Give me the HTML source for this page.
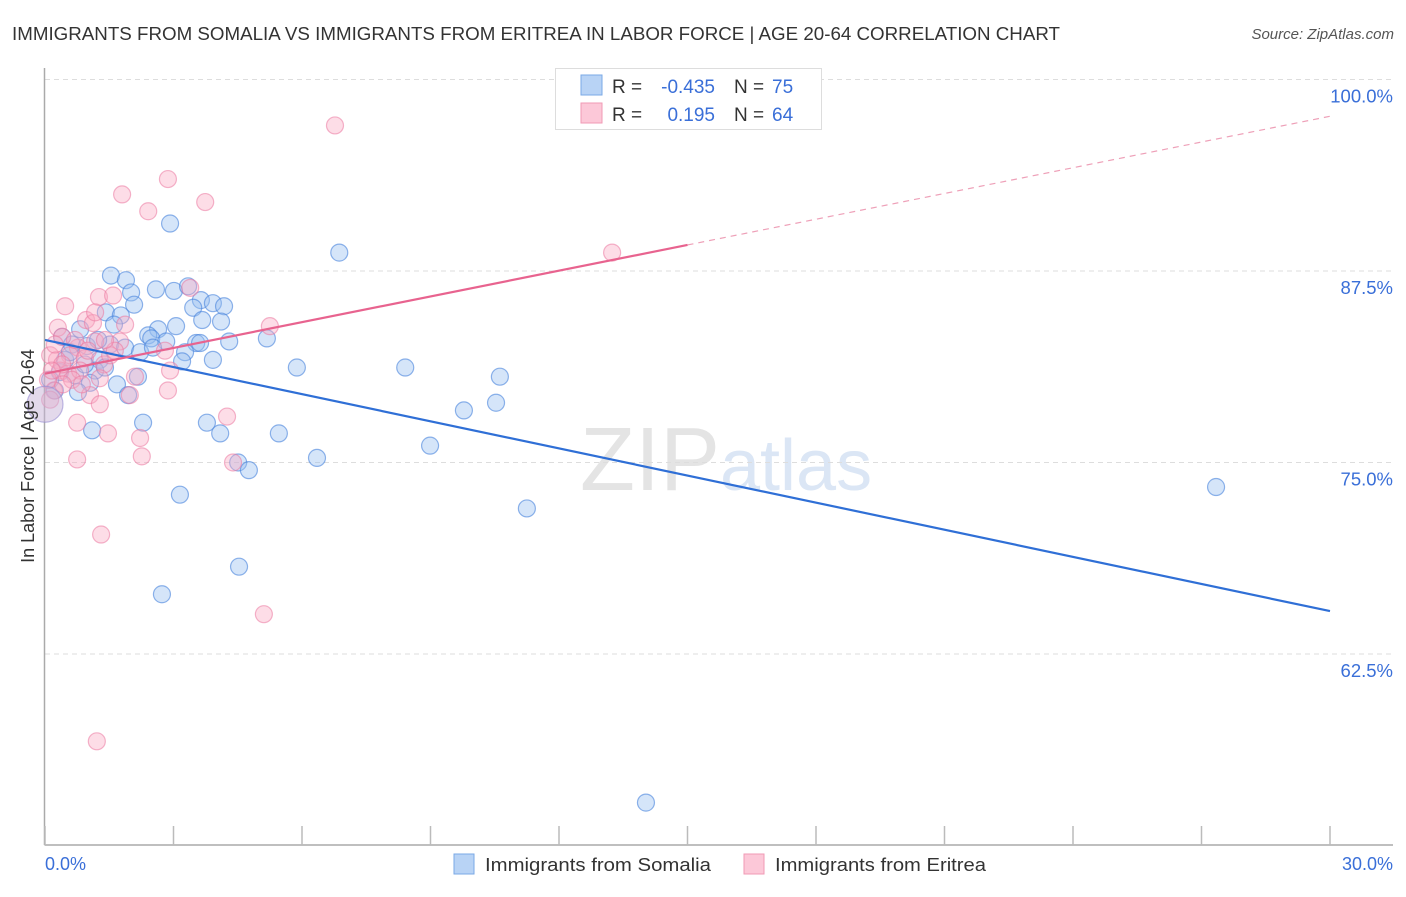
<!DOCTYPE html>
<html><head><meta charset="utf-8"><style>
body{margin:0;background:#fff;font-family:"Liberation Sans",sans-serif;}
svg text{font-family:"Liberation Sans",sans-serif;}
</style></head><body>
<svg id="chart" width="1406" height="892" viewBox="0 0 1406 892">
<text x="12" y="40" font-size="18" fill="#333" textLength="1048" lengthAdjust="spacingAndGlyphs">IMMIGRANTS FROM SOMALIA VS IMMIGRANTS FROM ERITREA IN LABOR FORCE | AGE 20-64 CORRELATION CHART</text>
<text x="1394" y="39" font-size="15" fill="#555" font-style="italic" text-anchor="end">Source: ZipAtlas.com</text>
<text x="720" y="490" font-size="90" fill="#e4e4e4" text-anchor="end" font-family="Liberation Serif">ZIP</text>
<text x="720" y="490" font-size="72" fill="#dbe6f5">atlas</text>
<g id="grid"></g>
<g id="axes"></g>
<g id="points"></g>
<g id="trends"></g>
<text transform="translate(34,456) rotate(-90)" font-size="18" fill="#333" text-anchor="middle">In Labor Force | Age 20-64</text>
<g>
<rect x="555.5" y="68.5" width="266" height="61" fill="#fff" stroke="#ddd"/>
<rect x="581" y="75" width="21" height="20" fill="#b8d3f5" stroke="#7aa8e6"/>
<rect x="581" y="103" width="21" height="20" fill="#fcc8d8" stroke="#f09ab5"/>
<text x="612" y="93" font-size="19" fill="#333">R =</text>
<text x="715" y="93" font-size="19" fill="#3a6fd8" text-anchor="end">-0.435</text>
<text x="734" y="93" font-size="19" fill="#333">N =</text>
<text x="772" y="93" font-size="19" fill="#3a6fd8">75</text>
<text x="612" y="121" font-size="19" fill="#333">R =</text>
<text x="715" y="121" font-size="19" fill="#3a6fd8" text-anchor="end">0.195</text>
<text x="734" y="121" font-size="19" fill="#333">N =</text>
<text x="772" y="121" font-size="19" fill="#3a6fd8">64</text>
</g>
<g>
<rect x="454" y="854" width="20" height="20" fill="#b8d3f5" stroke="#7aa8e6"/>
<text x="485" y="871" font-size="18" fill="#333" textLength="226" lengthAdjust="spacingAndGlyphs">Immigrants from Somalia</text>
<rect x="744" y="854" width="20" height="20" fill="#fcc8d8" stroke="#f09ab5"/>
<text x="775" y="871" font-size="18" fill="#333" textLength="211" lengthAdjust="spacingAndGlyphs">Immigrants from Eritrea</text>
</g>
</svg>
<script>
const yTicks=[100,87.5,75,62.5];
const yTickLabels=["100.0%","87.5%","75.0%","62.5%"];
const xTickVals=[0,3,6,9,12,15,18,21,24,27,30];
const xEndLabels=["0.0%","30.0%"];
const somaliaX=[2.92,6.87,1.54,1.89,2.01,2.59,3.01,3.34,3.64,3.92,4.18,3.46,2.08,1.42,1.77,1.61,3.67,4.11,3.06,2.64,2.41,2.48,2.83,3.53,3.62,4.30,5.18,0.82,0.40,0.63,0.98,1.52,1.87,2.22,2.52,3.27,3.20,3.92,5.88,8.41,10.62,1.28,1.17,1.40,0.35,0.70,2.17,1.68,1.05,0.77,1.94,9.78,10.53,2.29,3.78,4.09,5.46,1.10,8.99,6.35,4.51,4.76,3.15,11.25,27.34,4.53,2.73,14.03,0.12,0.23,0.47,0.58,0.93,1.24];
const somaliaY=[90.6,88.7,87.2,86.9,86.1,86.3,86.2,86.5,85.6,85.4,85.2,85.1,85.3,84.8,84.6,84.0,84.3,84.2,83.9,83.7,83.3,83.1,82.9,82.8,82.8,82.9,83.1,83.7,83.2,82.7,82.6,82.7,82.5,82.2,82.5,82.2,81.6,81.7,81.2,81.2,80.6,81.7,81.0,81.2,80.9,80.7,80.6,80.1,80.2,79.6,79.4,78.4,78.9,77.6,77.6,76.9,76.9,77.1,76.1,75.3,75.0,74.5,72.9,72.0,73.4,68.2,66.4,52.8,80.4,79.7,81.7,82.2,81.4,83.0];
const eritreaX=[6.77,2.87,1.80,2.41,3.74,13.24,3.39,1.26,1.59,0.47,0.96,1.12,1.87,5.25,0.30,0.40,1.75,1.17,0.77,0.58,0.93,1.38,0.28,0.35,0.54,0.82,0.63,1.28,2.10,2.92,2.80,2.87,0.21,1.05,1.28,1.98,4.25,0.75,1.47,2.22,2.26,0.75,4.39,1.31,5.11,1.21,0.12,0.12,0.23,0.42,0.70,1.00,1.52,0.40,0.86,1.17,0.07,0.16,1.63,1.40];
const eritreaY=[97.0,93.5,92.5,91.4,92.0,88.7,86.4,85.8,85.9,85.2,84.3,84.1,84.0,83.9,83.8,83.2,82.9,82.9,82.5,82.0,81.8,81.4,81.7,81.0,80.8,81.0,80.4,80.5,80.6,81.0,82.3,79.7,79.7,79.4,78.8,79.4,78.0,77.6,76.9,76.6,75.4,75.2,75.0,70.3,65.1,56.8,79.1,82.0,82.7,80.1,83.0,82.3,82.0,81.4,80.1,84.8,80.4,81.0,82.3,83.0];
const bigPoint=[0,78.8];
const somaliaTrend=[[0,83.0],[30,65.3]];
const eritreaTrend=[[0,80.8],[15,89.2],[30,97.6]];

const X0=45,X1=1330,YTOP=79.5,YSTEP=191.5;
function sx(v){return X0+(v/30)*(X1-X0);}
function sy(v){return YTOP+(100-v)/12.5*YSTEP;}
const NS="http://www.w3.org/2000/svg";
function mk(tag,attrs,parent){const e=document.createElementNS(NS,tag);for(const k in attrs)e.setAttribute(k,attrs[k]);parent.appendChild(e);return e;}
const grid=document.getElementById('grid'),axes=document.getElementById('axes'),pts=document.getElementById('points'),tr=document.getElementById('trends');
yTicks.forEach((t,i)=>{
  const l=mk('line',{x1:X0,x2:1393,y1:sy(t),y2:sy(t),stroke:'#ddd','stroke-dasharray':'5,4'},grid);
  
  
  const tx=mk('text',{x:1393,y:sy(t)+23,'font-size':18.5,fill:'#3a6fd8','text-anchor':'end'},grid);
  tx.textContent=yTickLabels[i];
  
  
});
const ya=mk('line',{x1:44.5,x2:44.5,y1:68,y2:845,stroke:'#aaa','stroke-width':1.5},axes);


const xa=mk('line',{x1:44.5,x2:1393,y1:845,y2:845,stroke:'#aaa','stroke-width':1.5},axes);


xTickVals.forEach(v=>{
  const t=mk('line',{x1:sx(v),x2:sx(v),y1:826,y2:845,stroke:'#bbb','stroke-width':1.5},axes);
  
  
});
const xl0=mk('text',{x:45,y:870,'font-size':18,fill:'#3a6fd8'},axes);xl0.textContent=xEndLabels[0];


const xl1=mk('text',{x:1393,y:870,'font-size':18,fill:'#3a6fd8','text-anchor':'end'},axes);xl1.textContent=xEndLabels[1];



somaliaX.forEach((x,i)=>{
  const c=mk('circle',{cx:sx(x),cy:sy(somaliaY[i]),r:8.5,fill:'rgba(150,190,240,0.4)',stroke:'rgba(70,130,220,0.6)','stroke-width':1.2},pts);
  
  
});
eritreaX.forEach((x,i)=>{
  const c=mk('circle',{cx:sx(x),cy:sy(eritreaY[i]),r:8.5,fill:'rgba(250,170,195,0.4)',stroke:'rgba(235,120,160,0.55)','stroke-width':1.2},pts);
  
  
});
const bp=mk('circle',{cx:sx(bigPoint[0]),cy:sy(bigPoint[1]),r:18,fill:'rgba(200,180,215,0.5)',stroke:'rgba(150,140,210,0.6)','stroke-width':1.2},pts);



const sl=mk('line',{x1:sx(somaliaTrend[0][0]),y1:sy(somaliaTrend[0][1]),x2:sx(somaliaTrend[1][0]),y2:sy(somaliaTrend[1][1]),stroke:'#2f6fd6','stroke-width':2.2},tr);


const el=mk('line',{x1:sx(eritreaTrend[0][0]),y1:sy(eritreaTrend[0][1]),x2:sx(eritreaTrend[1][0]),y2:sy(eritreaTrend[1][1]),stroke:'#e8638f','stroke-width':2.2},tr);


const ed=mk('line',{x1:sx(eritreaTrend[1][0]),y1:sy(eritreaTrend[1][1]),x2:sx(eritreaTrend[2][0]),y2:sy(eritreaTrend[2][1]),stroke:'#eea0b8','stroke-width':1.2,'stroke-dasharray':'6,5'},tr);


</script>
</body></html>
